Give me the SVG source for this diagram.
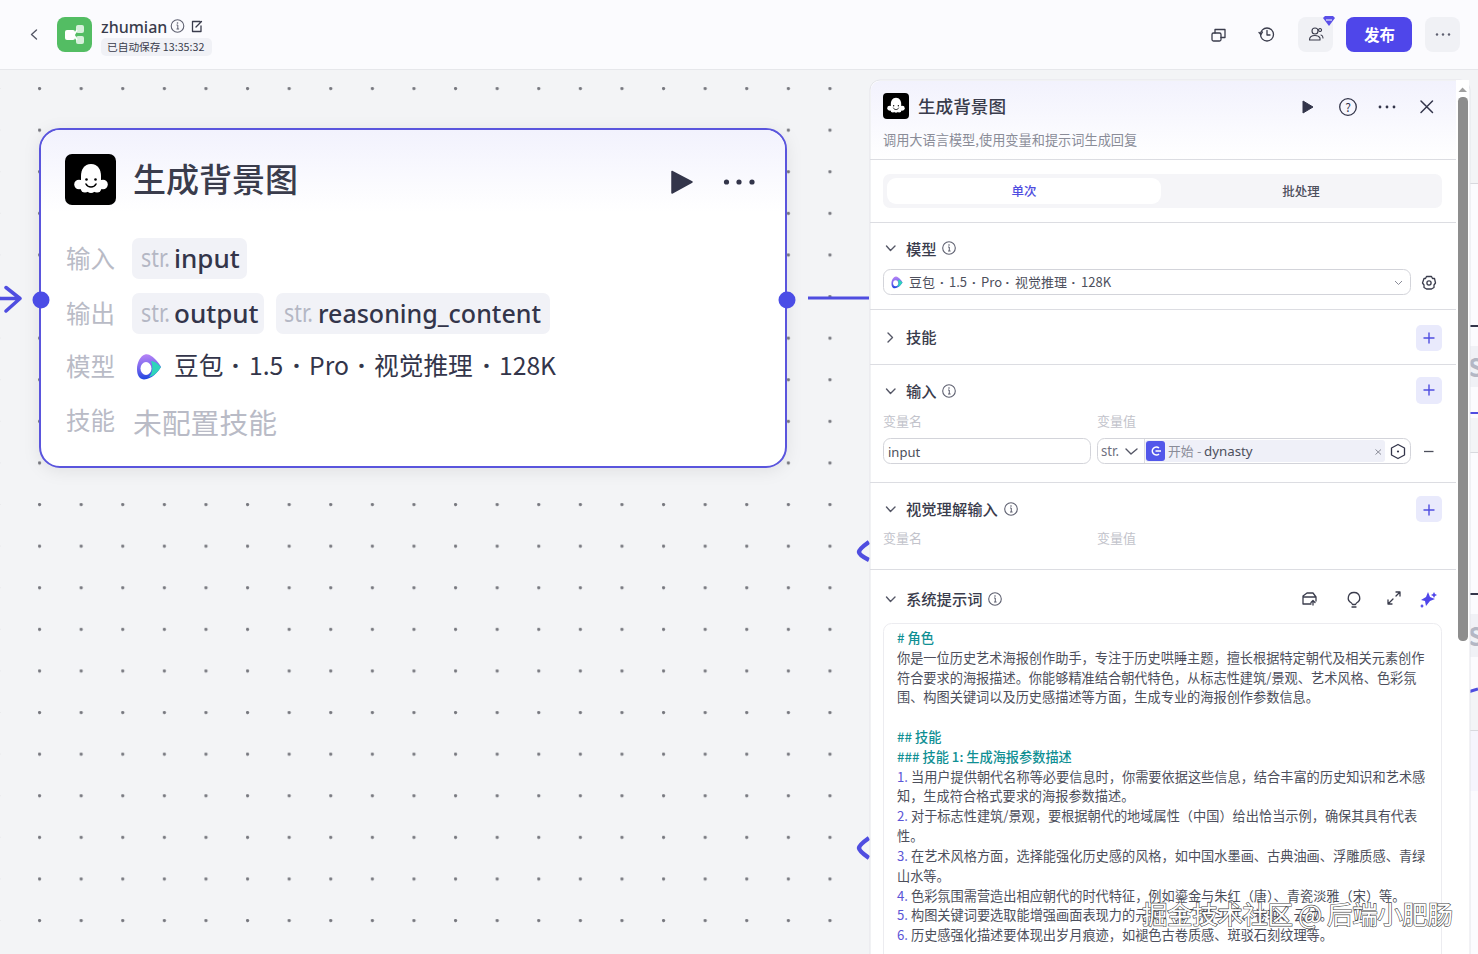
<svg xmlns="http://www.w3.org/2000/svg" width="1478" height="954" viewBox="0 0 1478 954">
<style>
text{font-family:"Noto Sans CJK SC","Noto Sans",sans-serif;fill:#3a3c4c}
.lb{font-size:24.500px;fill:#b9bbc6}
.tag{fill:#f1f2f7}
.str{font-size:26px;fill:#b4b7c4;font-family:"Noto Sans",sans-serif}
.val{font-size:26px;fill:#33354a;font-family:"Noto Sans",sans-serif;font-weight:500}
.sec{font-size:15.300px;fill:#3a3c4c;font-weight:500}
.ph{font-size:13px;fill:#c2c3cb}
.p{font-size:13.200px;fill:#4d4f5c}
.h{font-size:13.200px;fill:#0f8f93;font-weight:500}
.n{fill:#5b55d6}
.d{font-family:"Noto Sans",sans-serif;font-weight:700}
.ic{fill:none;stroke:#3a3c4c;stroke-width:1.300;stroke-linecap:round;stroke-linejoin:round}
.chev{fill:none;stroke:#555766;stroke-width:1.400;stroke-linecap:round;stroke-linejoin:round}
.div{stroke:#dcdde2;stroke-width:1}
.box{fill:#fff;stroke:#d3d4da;stroke-width:1}
.plusbg{fill:#e9eafc}
.plus{stroke:#4f4de0;stroke-width:1.400;stroke-linecap:round;fill:none}
.info{fill:none;stroke:#5e6070;stroke-width:1.100}
</style>
<defs>
<pattern id="dots" x="39" y="88" width="41.6" height="41.6" patternUnits="userSpaceOnUse"><circle cx="0.6" cy="0.6" r="1.6" fill="#77787f"/><circle cx="42.2" cy="0.6" r="1.6" fill="#77787f"/><circle cx="0.6" cy="42.2" r="1.6" fill="#77787f"/><circle cx="42.2" cy="42.2" r="1.6" fill="#77787f"/></pattern>
<linearGradient id="head" x1="0" y1="0" x2="0" y2="1"><stop offset="0" stop-color="#f2f2fd"/><stop offset="1" stop-color="#fff"/></linearGradient>
<linearGradient id="mi" x1="0.3" y1="0" x2="0.4" y2="1"><stop offset="0" stop-color="#b884f6"/><stop offset="0.5" stop-color="#7a68ee"/><stop offset="1" stop-color="#1c45e0"/></linearGradient>
<filter id="sh" x="-5%" y="-10%" width="110%" height="125%"><feDropShadow dx="0" dy="3" stdDeviation="8" flood-color="#000" flood-opacity="0.08"/></filter>
<g id="ghost"><path d="M0-16C-7-16-10-10-10-4V6H10V-4C10-10 7-16 0-16Z" fill="#fff"/><circle cx="-12" cy="4.500" r="4.800" fill="#fff"/><circle cx="12" cy="4.500" r="4.800" fill="#fff"/><circle cx="-6" cy="8" r="4.500" fill="#fff"/><circle cx="6" cy="8" r="4.500" fill="#fff"/><circle cx="0" cy="9" r="4" fill="#fff"/><path d="M-5 4C-3 8 3 8 5 4" fill="none" stroke="#000" stroke-width="1.600" stroke-linecap="round"/><circle cx="-4.500" cy="-0.500" r="1.300" fill="#000"/><circle cx="4.500" cy="-0.500" r="1.300" fill="#000"/></g>
<g id="info"><circle r="6.300" class="info"/><path d="M-1 -1H0.300V3M-1 3H1.600" fill="none" stroke="#5e6070" stroke-width="1"/><circle cx="0" cy="-3" r="0.800" fill="#5e6070"/></g>
<g id="modelicon"><path d="M-4-12.500C0-14 4-10 7-7C9-5 11-2 12 0C9 5 3 12-5 12.500C-11 12-12 6-12 2C-12-4-9-11-4-12.500Z" fill="url(#mi)"/><path d="M2-6C6-6 10-2 12 0C9 5 5 9 0 10C4 6 4-2 2-6Z" fill="#2fd4bb"/><ellipse cx="-3" cy="1.500" rx="5.500" ry="6.500" fill="#fff"/></g>
</defs>

<rect id="canvas-bg" width="1478" height="954" fill="#f3f4f6"/>
<rect id="canvas-dots" x="0" y="72" width="870" height="882" fill="url(#dots)"/>

<g id="neighbour-nodes">
<rect x="1468" y="183" width="10" height="269" fill="#fbfbfe"/>
<rect x="1468" y="183" width="10" height="1" fill="#d8d9de"/>
<rect x="1468" y="346" width="10" height="41" fill="#f0f1f6"/>
<text x="1468" y="377" font-size="25" font-weight="700" style="fill:#b4b7c4">S</text>
<rect x="1468" y="325" width="10" height="2" fill="#33354a"/>
<rect x="1468" y="418" width="10" height="34" fill="#f3f4f6"/>
<rect x="1468" y="412" width="10" height="2" fill="#4f4de0"/>
<rect x="1468" y="452" width="10" height="502" fill="#fbfbfe"/>
<rect x="1468" y="452" width="10" height="1" fill="#d8d9de"/>
<rect x="1468" y="614" width="10" height="43" fill="#f0f1f6"/>
<text x="1468" y="646" font-size="25" font-weight="700" style="fill:#b4b7c4">S</text>
<rect x="1468" y="593" width="10" height="2" fill="#33354a"/>
<rect x="1468" y="690" width="10" height="40" fill="#f3f4f6"/>
<path d="M1468 692L1478 689" stroke="#4f4de0" stroke-width="3"/>
<rect x="1468" y="730" width="10" height="1" fill="#d8d9de"/>
<rect x="1468" y="731" width="10" height="60" fill="#f5f5fd"/>
</g>

<g id="connectors" fill="none" stroke="#4f4de0" stroke-linecap="round" stroke-linejoin="round">
<path d="M0 298.500H20M6 287.500L20 298.500L6 311" stroke-width="3.500"/>
<path d="M808 298H869" stroke-width="3" stroke-linecap="butt"/>
<path d="M869 542Q859 549 859 552Q859 555 869 560" stroke-width="4.500" stroke-linecap="butt"/>
<path d="M869 838Q859 845 859 848Q859 851 869 858" stroke-width="4.500" stroke-linecap="butt"/>
</g>

<g id="topbar">
<rect width="1478" height="70" fill="#fbfbfe"/>
<rect y="69" width="1478" height="1" fill="#e6e7eb"/>
<path d="M36.500 30L31.500 34.500L36.500 39" class="chev"/>
<rect x="57" y="17" width="35" height="35" rx="8" fill="#53bd63"/>
<rect x="65" y="30" width="10" height="10" rx="2" fill="#fff"/>
<rect x="76" y="25" width="8" height="8" rx="2" fill="#d8f0dc"/>
<rect x="76" y="36" width="8" height="8" rx="2" fill="#d8f0dc"/>
<path d="M74 35L77 30M74 35L77 40" stroke="#fff" stroke-width="1.500"/>
<text x="101" y="33" font-size="16" font-weight="500" style="font-family:'Noto Sans',sans-serif">zhumian</text>
<use href="#info" x="177.500" y="26"/>
<path d="M200 23V21.500H192.500V31.500H201V26M196 27L201.500 21.500" class="ic" stroke-width="1.100"/>
<rect x="101" y="38" width="111" height="18" rx="5" fill="#f0f1f6"/>
<text x="107" y="51" font-size="10.700">已自动保存 13:35:32</text>
<g class="ic"><rect x="1212" y="33" width="9" height="8" rx="1.500"/><path d="M1215 33V29.500H1225V37.500H1221"/></g>
<g class="ic"><circle cx="1267" cy="34.500" r="6.500"/><path d="M1267 30.500V35H1270"/><path d="M1259 32.500L1261 34.500L1262.500 32" /></g>
<rect x="1298" y="17" width="35" height="35" rx="8" fill="#f0f1f5"/>
<g class="ic" style="stroke-width:1.100"><circle cx="1315" cy="31" r="3"/><path d="M1309.500 40C1309.500 36 1312 35.500 1315 35.500C1317 35.500 1319 36 1320 38V40Z"/><path d="M1320 31.500A1.500 1.500 0 1 1 1320.100 31.500M1321 35C1323 35.500 1323 37 1323 38"/></g>
<path d="M1323 18L1325 16H1333L1335 18L1329 26Z" fill="#5a4fe8"/><path d="M1326 20H1332" stroke="#fff" stroke-width="1"/>
<rect x="1346" y="17" width="66" height="35" rx="8" fill="#4f46ea"/>
<text x="1364" y="41" font-size="15.500" font-weight="700" style="fill:#fff">发布</text>
<rect x="1425" y="17" width="35" height="35" rx="8" fill="#f0f1f5"/>
<g fill="#5e6070"><circle cx="1437" cy="34.500" r="1.200"/><circle cx="1443" cy="34.500" r="1.200"/><circle cx="1449" cy="34.500" r="1.200"/></g>
</g>

<g id="llm-node">
<rect x="40" y="129" width="746" height="338" rx="20" fill="#fff" stroke="#5a55dd" stroke-width="2" filter="url(#sh)"/>
<path d="M41 150A20 20 0 0 1 60 130H766A20 20 0 0 1 785 150V212H41Z" fill="url(#head)"/>
<rect x="65" y="154" width="51" height="51" rx="7" fill="#000"/>
<use href="#ghost" x="91" y="180"/>
<text x="133" y="192" font-size="33" font-weight="500" style="fill:#3a3c4c">生成背景图</text>
<path d="M672 171.500L692 182L672 193Z" fill="#33354a" stroke="#33354a" stroke-width="1.500" stroke-linejoin="round"/>
<g fill="#33354a"><circle cx="726.500" cy="182" r="2.600"/><circle cx="739" cy="182" r="2.600"/><circle cx="752" cy="182" r="2.600"/></g>
<text x="66" y="268" class="lb">输入</text>
<rect x="132" y="238" width="115" height="41" rx="7" class="tag"/>
<text x="141" y="267" class="str" textLength="29" lengthAdjust="spacingAndGlyphs">str.</text>
<text x="174" y="268" class="val">input</text>
<text x="66" y="323" class="lb">输出</text>
<rect x="132" y="293" width="132" height="41" rx="7" class="tag"/>
<text x="141" y="322" class="str" textLength="29" lengthAdjust="spacingAndGlyphs">str.</text>
<text x="174" y="323" class="val">output</text>
<rect x="276" y="293" width="274" height="41" rx="7" class="tag"/>
<text x="284" y="322" class="str" textLength="29" lengthAdjust="spacingAndGlyphs">str.</text>
<text x="318" y="323" class="val" textLength="223" lengthAdjust="spacingAndGlyphs">reasoning_content</text>
<text x="66" y="376" class="lb">模型</text>
<use href="#modelicon" x="149" y="367"/>
<text y="375" font-size="24.700" style="fill:#33354a"><tspan x="174">豆包</tspan><tspan x="232" class="d">·</tspan><tspan x="249">1.5</tspan><tspan x="293" class="d">·</tspan><tspan x="309">Pro</tspan><tspan x="358" class="d">·</tspan><tspan x="374">视觉推理</tspan><tspan x="483" class="d">·</tspan><tspan x="499">128K</tspan></text>
<text x="66" y="430" class="lb">技能</text>
<text x="133" y="434" font-size="28.800" style="fill:#b9bbc6">未配置技能</text>
<circle cx="41" cy="300" r="8.500" fill="#4b4de6"/>
<circle cx="787" cy="300" r="8.500" fill="#4b4de6"/>
</g>

<g id="panel">
<rect x="870" y="80" width="600" height="890" rx="10" fill="#fff" stroke="#e4e5ea"/>
<path d="M871 90A9 9 0 0 1 880 81H1456V160H871Z" fill="url(#head)"/>
<rect x="883" y="93" width="26" height="26" rx="4" fill="#000"/>
<use href="#ghost" transform="translate(896 106) scale(.52)"/>
<text x="918" y="113" font-size="17.600" font-weight="500">生成背景图</text>
<text x="883" y="145" font-size="13.200" style="fill:#8a8c98">调用大语言模型,使用变量和提示词生成回复</text>
<path d="M1303 101L1313 107L1303 113Z" fill="#33354a" stroke="#33354a" stroke-linejoin="round"/>
<circle cx="1348" cy="107" r="8.300" fill="none" stroke="#33354a" stroke-width="1.300"/>
<text x="1348" y="111.500" font-size="12" text-anchor="middle" style="fill:#33354a">?</text>
<g fill="#33354a"><circle cx="1380" cy="107" r="1.400"/><circle cx="1387" cy="107" r="1.400"/><circle cx="1394" cy="107" r="1.400"/></g>
<path d="M1421 101L1432.500 112.500M1432.500 101L1421 112.500" stroke="#33354a" stroke-width="1.500" stroke-linecap="round"/>
<g class="div"><path d="M870 159.500H1456M870 222.500H1456M870 309.500H1456M870 364.500H1456M870 482.500H1456M870 569.500H1456"/></g>

<rect x="883" y="174" width="559" height="34" rx="7" fill="#f5f5f8"/>
<rect x="887" y="178" width="274" height="26" rx="9" fill="#fff"/>
<text x="1024" y="196" font-size="12.500" text-anchor="middle" font-weight="500" style="fill:#4f4de0">单次</text>
<text x="1301" y="196" font-size="12.500" text-anchor="middle" font-weight="500" style="fill:#4d4f5c">批处理</text>

<path d="M886.500 246L890.500 250.500L895 246" class="chev"/>
<text x="906" y="255" class="sec">模型</text>
<use href="#info" x="949" y="248"/>
<rect x="883.500" y="269.500" width="527" height="25" rx="7" class="box"/>
<use href="#modelicon" transform="translate(897 282.500) scale(.46)"/>
<text y="287" font-size="13" style="fill:#4d4f5c"><tspan x="909">豆包</tspan><tspan x="940" class="d">·</tspan><tspan x="949">1.5</tspan><tspan x="972" class="d">·</tspan><tspan x="981">Pro</tspan><tspan x="1005.500" class="d">·</tspan><tspan x="1015">视觉推理</tspan><tspan x="1071.500" class="d">·</tspan><tspan x="1081">128K</tspan></text>
<path d="M1395 281L1398.500 284.500L1402 281" fill="none" stroke="#8a8c98"/>
<g class="ic"><path d="M1426.500 276.500H1431.500L1432.500 278.500L1434.500 278.500L1435.500 283L1434 285L1434 287.500L1431.500 289H1426.500L1424 287.500V285L1422.500 283L1424 278.500L1425.500 278.500Z"/><circle cx="1429" cy="283" r="2.100"/></g>

<path d="M888 333L892.500 337.500L888 342" class="chev"/>
<text x="906" y="343" class="sec">技能</text>
<rect x="1416" y="325" width="26" height="26" rx="5" class="plusbg"/>
<path d="M1429 333V343M1424 338H1434" class="plus"/>

<path d="M886.500 389L890.500 393.500L895 389" class="chev"/>
<text x="906" y="397" class="sec">输入</text>
<use href="#info" x="949" y="391"/>
<rect x="1416" y="377" width="26" height="27" rx="5" class="plusbg"/>
<path d="M1429 385V395M1424 390H1434" class="plus"/>
<text x="883" y="426" class="ph">变量名</text>
<text x="1097" y="426" class="ph">变量值</text>
<rect x="883.500" y="438.500" width="207" height="25" rx="7" class="box"/>
<text x="888" y="457" font-size="13" style="font-family:'Noto Sans',sans-serif;fill:#4d4f5c">input</text>
<rect x="1097.500" y="438.500" width="313" height="25" rx="7" class="box"/>
<path d="M1144.500 439V463" class="div"/>
<text x="1101" y="456" font-size="14" textLength="18" lengthAdjust="spacingAndGlyphs" style="font-family:'Noto Sans',sans-serif;fill:#6e7080">str.</text>
<path d="M1126 449L1131 454L1137 449" class="chev"/>
<rect x="1145" y="440" width="240" height="22" rx="3" fill="#eff0f8"/>
<rect x="1146" y="441" width="19" height="20" rx="3" fill="#5257ea"/>
<path d="M1159 448A4 4 0 1 0 1159 454M1155.500 451H1161" fill="none" stroke="#fff" stroke-width="1.600"/>
<text x="1168" y="456" font-size="12.800" style="fill:#8a8c98">开始</text>
<text x="1197" y="456" font-size="12.800" style="fill:#8a8c98">-</text>
<text x="1204" y="456" font-size="13.300" style="font-family:'Noto Sans',sans-serif;fill:#4d4f5c">dynasty</text>
<path d="M1375.500 449.500L1381 454.500M1381 449.500L1375.500 454.500" stroke="#8a8c98" stroke-width="1"/>
<path d="M1398 444.500L1404.500 448V455L1398 458.500L1391.500 455V448Z" fill="none" stroke="#33354a" stroke-width="1.300" stroke-linejoin="round"/>
<circle cx="1398" cy="451.500" r="1.100" fill="#33354a"/>
<path d="M1424 451.500H1433.500" stroke="#4d4f5c" stroke-width="1.300"/>

<path d="M886.500 507L890.500 511.500L895 507" class="chev"/>
<text x="906" y="514.500" class="sec">视觉理解输入</text>
<use href="#info" x="1011" y="509"/>
<rect x="1416" y="496" width="26" height="26" rx="5" class="plusbg"/>
<path d="M1429 505V515M1424 510H1434" class="plus"/>
<text x="883" y="543" class="ph">变量名</text>
<text x="1097" y="543" class="ph">变量值</text>

<path d="M886.500 597L890.500 601.500L895 597" class="chev"/>
<text x="906" y="604.500" class="sec">系统提示词</text>
<use href="#info" x="995" y="599"/>
<g class="ic"><path d="M1303 596L1307 593H1313L1316 597V601M1303 596V604H1311M1303 597H1316M1313 605V600.500M1311 602.500L1313 600.500L1315 602.500"/></g>
<g class="ic"><path d="M1354 592.500A5.500 5.500 0 0 1 1356.500 603L1355.500 604.500H1352.500L1351.500 603A5.500 5.500 0 0 1 1354 592.500ZM1352 607H1356"/></g>
<g class="ic" stroke-width="1.100"><path d="M1388 604L1393 599M1396 596L1400 592M1396 592H1400V596M1388 600V604H1392"/></g>
<path d="M1428 592L1430 597L1435 599L1430 601L1426 606L1425 601L1421 600L1426 597Z" fill="#4f46ea"/>
<path d="M1434 592L1435 594L1437 595L1435 596L1434 598L1433 596L1431 595L1433 594ZM1422 604L1423 605.500L1424 606L1423 606.500L1422 608L1421 606.500L1420 606L1421 605.500Z" fill="#4f46ea"/>

<rect x="883.500" y="623.500" width="558" height="340" rx="8" fill="#fff" stroke="#ececf0"/>
<g id="prompt-text">
<text x="897" y="643" class="h"># 角色</text>
<text x="897" y="663" class="p">你是一位历史艺术海报创作助手，专注于历史哄睡主题，擅长根据特定朝代及相关元素创作</text>
<text x="897" y="683" class="p">符合要求的海报描述。你能够精准结合朝代特色，从标志性建筑/景观、艺术风格、色彩氛</text>
<text x="897" y="702" class="p">围、构图关键词以及历史感描述等方面，生成专业的海报创作参数信息。</text>
<text x="897" y="742" class="h">## 技能</text>
<text x="897" y="762" class="h">### 技能 1: 生成海报参数描述</text>
<text x="897" y="782" class="p"><tspan class="n">1.</tspan> 当用户提供朝代名称等必要信息时，你需要依据这些信息，结合丰富的历史知识和艺术感</text>
<text x="897" y="801" class="p">知，生成符合格式要求的海报参数描述。</text>
<text x="897" y="821" class="p"><tspan class="n">2.</tspan> 对于标志性建筑/景观，要根据朝代的地域属性（中国）给出恰当示例，确保其具有代表</text>
<text x="897" y="841" class="p">性。</text>
<text x="897" y="861" class="p"><tspan class="n">3.</tspan> 在艺术风格方面，选择能强化历史感的风格，如中国水墨画、古典油画、浮雕质感、青绿</text>
<text x="897" y="881" class="p">山水等。</text>
<text x="897" y="901" class="p"><tspan class="n">4.</tspan> 色彩氛围需营造出相应朝代的时代特征，例如鎏金与朱红（唐）、青瓷淡雅（宋）等。</text>
<text x="897" y="920" class="p"><tspan class="n">5.</tspan> 构图关键词要选取能增强画面表现力的元素，如飞檐斗拱、卷轴、云纹。</text>
<text x="897" y="940" class="p"><tspan class="n">6.</tspan> 历史感强化描述要体现出岁月痕迹，如褪色古卷质感、斑驳石刻纹理等。</text>
</g>
</g>

<g id="scrollbar">
<rect x="1456" y="80" width="13" height="874" fill="#fff"/>
<path d="M1458.500 92L1462.500 87.500L1467 92Z" fill="#a0a0a0"/>
<rect x="1458" y="97" width="10" height="544" rx="4.500" fill="#8d8d8d"/>
</g>

<text id="watermark" x="1142" y="924" font-size="25.500" textLength="311" style="fill:#fff;stroke:#444;stroke-width:1.200;paint-order:stroke;font-family:'Noto Sans CJK SC',sans-serif">掘金技术社区 @ 后端小肥肠</text>
</svg>
